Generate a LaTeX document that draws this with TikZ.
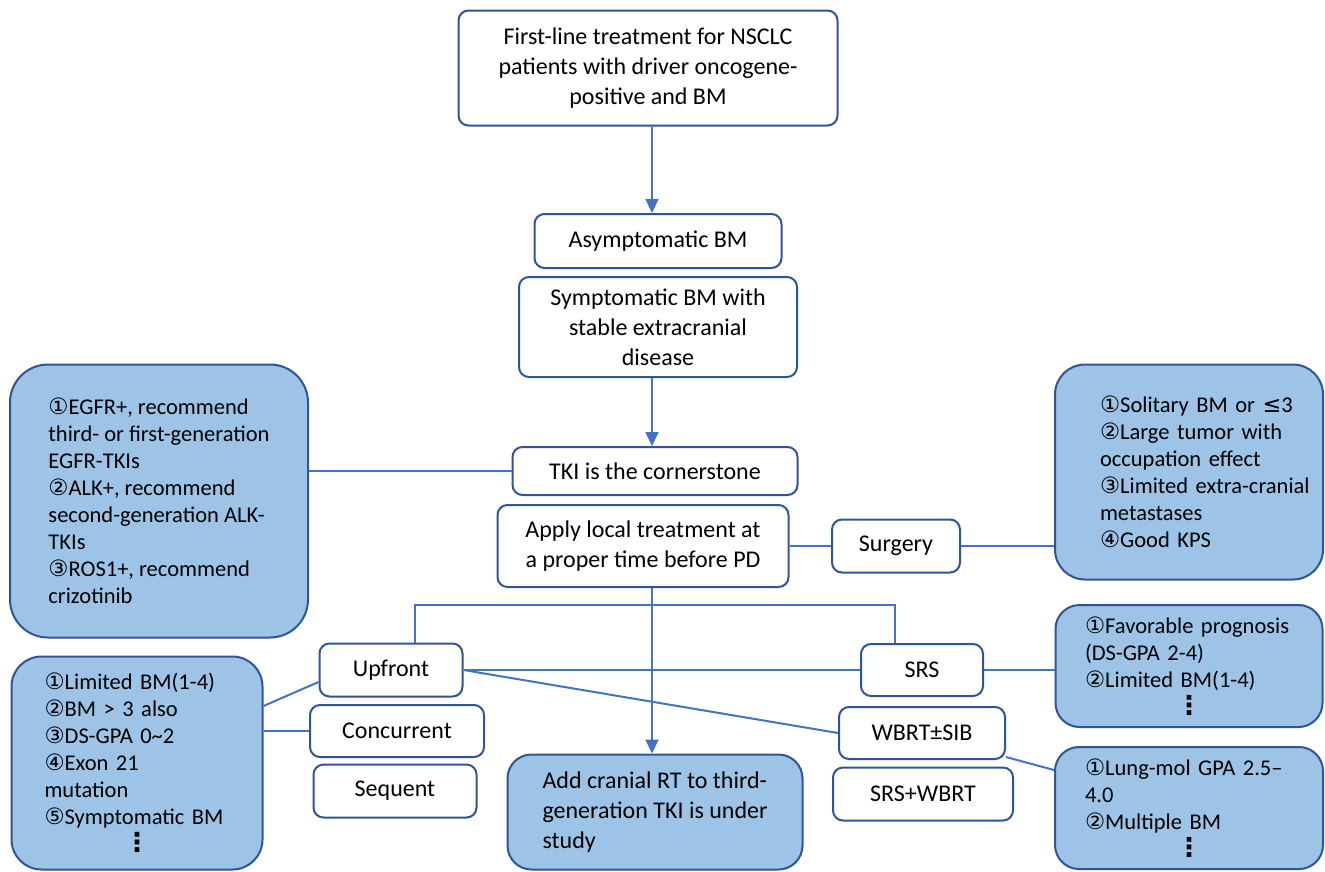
\documentclass[tikz,border=0pt]{standalone}
\usepackage{fontspec}
\setmainfont{Carlito}
\newfontfamily\symfont{DejaVu Sans}
\usetikzlibrary{arrows.meta}
\definecolor{boxblue}{HTML}{2F5597}
\definecolor{lineblue}{HTML}{4472C4}
\definecolor{critfill}{HTML}{9DC3E6}
\newcommand{\cn}[1]{{\symfont #1}}
\newcommand{\dotsym}{{\symfont\bfseries\fontsize{26}{27}\selectfont ⋮}}
\tikzset{
        whitebox/.style={draw=boxblue, line width=2pt, rounded corners=10pt, fill=white, inner sep=0pt, align=center, font=\fontsize{24}{30}\selectfont},
        bluebox/.style={draw=boxblue, line width=2pt, rounded corners=26pt, fill=critfill, inner sep=0pt, align=left, font=\fontsize{22.5}{27}\selectfont},
        link/.style={draw=lineblue, line width=2pt},
        flowarrow/.style={link, -{Triangle[length=14pt,width=13pt]}}
          }

\begin{document}
\begin{tikzpicture}[x=1pt, y=-1pt]
        \useasboundingbox (0,0) rectangle (1325,871);
        \coordinate (spine) at (652,0);
        \coordinate (fork) at (652,605);
        % main column
        \node[whitebox, minimum width=379pt, minimum height=115pt] (first) at (648,68) {First-line treatment for NSCLC\\patients with driver oncogene-\\positive and BM};
        \node[whitebox, minimum width=247pt, minimum height=54pt] (asym) at (658,241) {Asymptomatic BM};
        \node[whitebox, minimum width=278pt, minimum height=100pt] (symp) at (658,327) {Symptomatic BM with\\stable extracranial\\disease};
        \node[whitebox, minimum width=285pt, minimum height=48pt] (tki) at (655,471) {TKI is the cornerstone};
        \node[whitebox, minimum width=291pt, minimum height=82pt] (apply) at (643,546) {Apply local treatment at\\a proper time before PD};
        \node[whitebox, minimum width=128pt, minimum height=53pt] (surgery) at (896,546) {Surgery};
        \node[bluebox, rounded corners=24pt, minimum width=295pt, minimum height=115pt, font=\fontsize{24}{30}\selectfont] (addrt) at (655,812) {Add cranial RT to third-\\generation TKI is under\\study};
        % criteria boxes
        \node[bluebox, rounded corners=38pt, minimum width=298pt, minimum height=273pt] (tkicrit) at (159,501) {\cn{①}EGFR+, recommend\\third- or first-generation\\EGFR-TKIs\\\cn{②}ALK+, recommend\\second-generation ALK-\\TKIs\\\cn{③}ROS1+, recommend\\crizotinib};
        \node[bluebox, rounded corners=30pt, minimum width=268pt, minimum height=215pt, text width=178pt] (surgcrit) at (1189,472) {\mbox{\cn{①}Solitary BM or {\symfont ≤}3}\\\mbox{\cn{②}Large tumor with}\\\mbox{occupation effect}\\\mbox{\cn{③}Limited extra-cranial}\\\mbox{metastases}\\\mbox{\cn{④}Good KPS}};
        \node[bluebox, rounded corners=30pt, minimum width=251pt, minimum height=213pt, text width=185pt] (upcrit) at (137,763) {\mbox{\cn{①}Limited BM(1-4)}\\\mbox{\cn{②}BM > 3 also}\\\mbox{\cn{③}DS-GPA 0\textasciitilde2}\\\mbox{\cn{④}Exon 21}\\\mbox{mutation}\\\mbox{\cn{⑤}Symptomatic BM}\\\makebox[\hsize]{\dotsym}};
        \node[bluebox, rounded corners=24pt, minimum width=267pt, minimum height=122pt, text width=208pt] (srscrit) at (1189,666) {\mbox{\cn{①}Favorable prognosis}\\\mbox{(DS-GPA 2-4)}\\\mbox{\cn{②}Limited BM(1-4)}\\\makebox[\hsize]{\dotsym}};
        \node[bluebox, rounded corners=24pt, minimum width=268pt, minimum height=122pt, text width=208pt] (wbrtcrit) at (1189,808) {\mbox{\cn{①}Lung-mol GPA 2.5–}\\\mbox{4.0}\\\mbox{\cn{②}Multiple BM}\\\makebox[\hsize]{\dotsym}};
        % radiotherapy options
        \node[whitebox, minimum width=143pt, minimum height=53pt] (upfront) at (391,670) {Upfront};
        \node[whitebox, minimum width=174pt, minimum height=52pt] (concurrent) at (397,731) {Concurrent};
        \node[whitebox, minimum width=163pt, minimum height=53pt] (sequent) at (395,791) {Sequent};
        \node[whitebox, minimum width=122pt, minimum height=52pt] (srs) at (922,670) {SRS};
        \node[whitebox, minimum width=166pt, minimum height=52pt] (wbrt) at (922,733) {WBRT±SIB};
        \node[whitebox, minimum width=180pt, minimum height=53pt] (srswbrt) at (923,794) {SRS+WBRT};
        % connectors
        \draw[flowarrow] (first.south -| spine) -- (asym.north -| spine);
        \draw[flowarrow] (symp.south -| spine) -- (tki.north -| spine);
        \draw[flowarrow] (apply.south -| spine) -- (addrt.north -| spine);
        \draw[link] (tkicrit.east |- tki.west) -- (tki.west);
        \draw[link] (apply.east) -- (surgery.west);
        \draw[link] (surgery.east) -- (surgery.east -| surgcrit.west);
        \draw[link] ([xshift=24pt]upfront.north) |- (fork) -| ([xshift=-27pt]srs.north);
        \draw[link] (upfront.east) -- (srs.west);
        \draw[link] (upfront.east) -- (wbrt.west);
        \draw[link] (srs.east) -- (srs.east -| srscrit.west);
        \draw[link] ([yshift=-24pt]wbrt.east) -- ([yshift=38pt]wbrtcrit.west);
        \draw[link] ([yshift=57pt]upcrit.east) -- ([yshift=-12pt]upfront.west);
        \draw[link] (concurrent.west -| upcrit.east) -- (concurrent.west);
\end{tikzpicture}
\end{document}
